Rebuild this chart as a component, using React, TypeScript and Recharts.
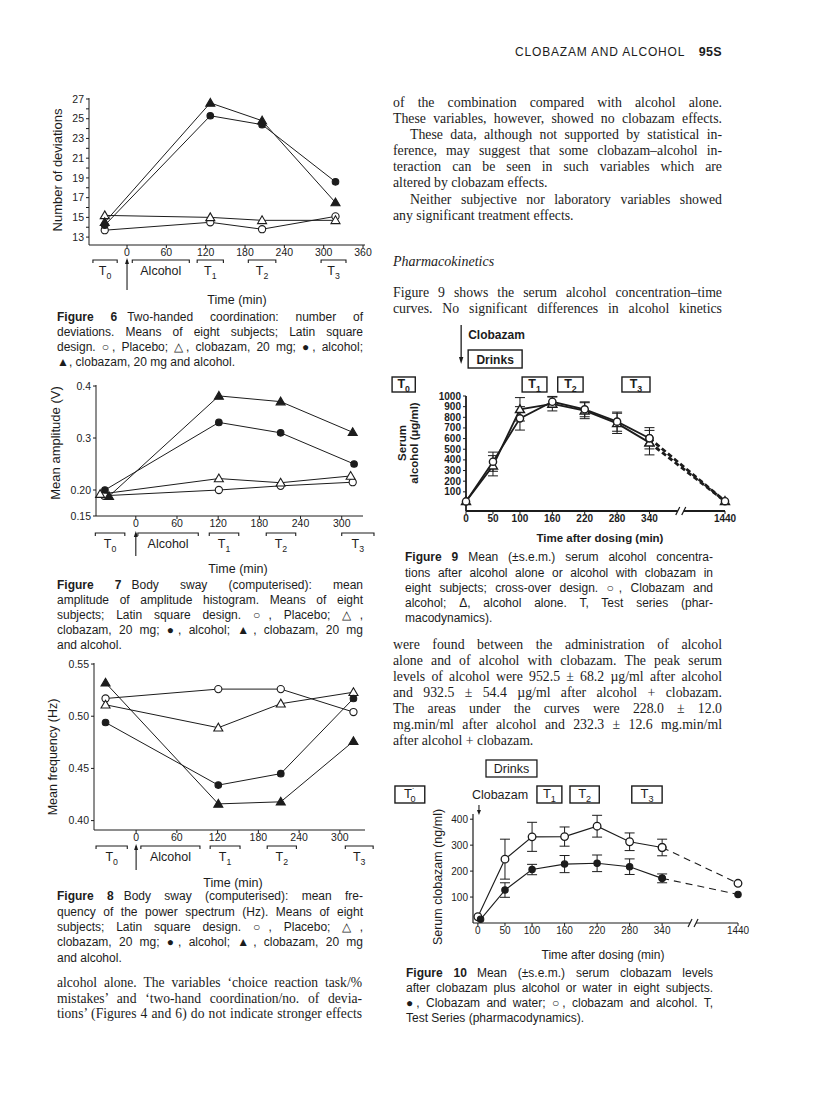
import React from "react";
import { LineChart, Line, XAxis, YAxis, ErrorBar } from "recharts";

const INK = "#1c1c1c";
const SANS = "'Liberation Sans', Arial, Helvetica, sans-serif";
const SERIF = "'Liberation Serif', 'Times New Roman', serif";

// ---- Figure 6: two-handed coordination (number of deviations)
const fig6Times = [-34, 127, 206, 318];
const fig6Placebo = [13.7, 14.5, 13.8, 15.1];
const fig6Clobazam = [15.2, 15.0, 14.7, 14.7];
const fig6Alcohol = [14.2, 25.3, 24.4, 18.6];
const fig6Both = [14.5, 26.6, 24.8, 16.5];
const fig6XTicks = [0, 60, 120, 180, 240, 300, 360];
const fig6YTicks = [13, 14, 15, 16, 17, 18, 19, 20, 21, 22, 23, 24, 25, 26, 27];

// ---- Figure 7: body sway, mean amplitude (V)
const fig7PlaceboT = [-46, 121, 211, 316];
const fig7Placebo = [0.189, 0.2, 0.208, 0.215];
const fig7ClobazamT = [-52, 121, 211, 313];
const fig7Clobazam = [0.192, 0.222, 0.214, 0.227];
const fig7AlcoholT = [-45, 121, 211, 318];
const fig7Alcohol = [0.2, 0.33, 0.31, 0.25];
const fig7BothT = [-39, 121, 211, 316];
const fig7Both = [0.188, 0.381, 0.37, 0.311];
const fig7XTicks = [0, 60, 120, 180, 240, 300];
const fig7YTicks = [0.15, 0.2, 0.3, 0.4];
const fig7YLabels = ["0.15", "0.20", "0.3", "0.4"];

// ---- Figure 8: body sway, mean frequency (Hz)
const fig8Times = [-45, 121, 213, 320];
const fig8Placebo = [0.517, 0.526, 0.526, 0.504];
const fig8Clobazam = [0.511, 0.489, 0.512, 0.523];
const fig8Alcohol = [0.494, 0.434, 0.445, 0.517];
const fig8Both = [0.532, 0.416, 0.418, 0.476];
const fig8XTicks = [0, 60, 120, 180, 240, 300];
const fig8YTicks = [0.4, 0.45, 0.5, 0.55];
const fig8YLabels = ["0.40", "0.45", "0.50", "0.55"];

// ---- Figure 9: serum alcohol (ug/ml)
const pkTimes = [0, 50, 100, 160, 220, 280, 340, 1440];
const pkTickLabels = ["0", "50", "100", "160", "220", "280", "340", "1440"];
const fig9WithClob = [10, 383, 790, 946, 875, 759, 603, 12];
const fig9WithClobErr = [0, 90, 110, 50, 70, 90, 100, 0];
const fig9AlcAlone = [10, 345, 875, 925, 862, 743, 562, 12];
const fig9AlcAloneErr = [0, 95, 110, 65, 75, 95, 115, 0];
const fig9YTicks = [100, 200, 300, 400, 500, 600, 700, 800, 900, 1000];

// ---- Figure 10: serum clobazam (ng/ml)
const fig10AlcT = [0, 50, 100, 160, 220, 280, 340, 1440];
const fig10Alc = [24, 246, 332, 333, 373, 313, 291, 153];
const fig10AlcErr = [0, 77, 56, 37, 42, 34, 32, 0];
const fig10WaterT = [5, 50, 100, 160, 220, 280, 340, 1440];
const fig10Water = [14, 127, 206, 227, 230, 217, 172, 110];
const fig10WaterErr = [0, 28, 20, 33, 32, 30, 17, 0];
const fig10YTicks = [100, 200, 300, 400];

// test series windows (minutes)
const fig6Windows = [
  { from: -52, to: -15, sub: "0" },
  { from: 8, to: 95, label: "Alcohol" },
  { from: 107, to: 147, sub: "1" },
  { from: 185, to: 227, sub: "2" },
  { from: 296, to: 334, sub: "3" },
];
const fig7Windows = [
  { from: -59, to: -16, sub: "0" },
  { from: 3, to: 91, label: "Alcohol" },
  { from: 107, to: 150, sub: "1" },
  { from: 190, to: 233, sub: "2" },
  { from: 300, to: 347, sub: "3" },
];
const fig8Windows = [
  { from: -59, to: -13, sub: "0" },
  { from: 7, to: 94, label: "Alcohol" },
  { from: 109, to: 153, sub: "1" },
  { from: 193, to: 236, sub: "2" },
  { from: 308, to: 349, sub: "3" },
];
const fig9Boxes = [
  { from: -137, to: -94, sub: "0" },
  { from: 104, to: 150, sub: "1" },
  { from: 170, to: 217, sub: "2" },
  { from: 289, to: 341, sub: "3" },
];
const fig10Boxes = [
  { from: -153, to: -98, sub: "0", prime: true },
  { from: 109, to: 155, sub: "1" },
  { from: 170, to: 224, sub: "2" },
  { from: 284, to: 340, sub: "3" },
];

// ---- text
const rightTop = [
  { t: "of the combination compared with alcohol alone." },
  { t: "These variables, however, showed no clobazam effects." },
  { t: "These data, although not supported by statistical in-", ind: 17 },
  { t: "ference, may suggest that some clobazam\u2013alcohol in-" },
  { t: "teraction can be seen in such variables which are" },
  { t: "altered by clobazam effects.", end: true },
  { t: "Neither subjective nor laboratory variables showed", ind: 17 },
  { t: "any significant treatment effects.", end: true },
];
const rightIntro = [
  { t: "Figure 9 shows the serum alcohol concentration\u2013time" },
  { t: "curves. No significant differences in alcohol kinetics" },
];
const rightMid = [
  { t: "were found between the administration of alcohol" },
  { t: "alone and of alcohol with clobazam. The peak serum" },
  { t: "levels of alcohol were 952.5 \u00b1 68.2 \u00b5g/ml after alcohol" },
  { t: "and 932.5 \u00b1 54.4 \u00b5g/ml after alcohol + clobazam." },
  { t: "The areas under the curves were 228.0 \u00b1 12.0" },
  { t: "mg.min/ml after alcohol and 232.3 \u00b1 12.6 mg.min/ml" },
  { t: "after alcohol + clobazam.", end: true },
];
const leftBottom = [
  { t: "alcohol alone. The variables \u2018choice reaction task/%" },
  { t: "mistakes\u2019 and \u2018two-hand coordination/no. of devia-" },
  { t: "tions\u2019 (Figures 4 and 6) do not indicate stronger effects" },
];
const cap6 = [
  { b: "Figure 6", t: "Two-handed coordination: number of" },
  { t: "deviations. Means of eight subjects; Latin square" },
  { t: "design. \u25cb, Placebo; \u25b3, clobazam, 20 mg; \u25cf, alcohol;" },
  { t: "\u25b2, clobazam, 20 mg and alcohol.", end: true },
];
const cap7 = [
  { b: "Figure 7", t: "Body sway (computerised): mean" },
  { t: "amplitude of amplitude histogram. Means of eight" },
  { t: "subjects; Latin square design. \u25cb, Placebo; \u25b3," },
  { t: "clobazam, 20 mg; \u25cf, alcohol; \u25b2, clobazam, 20 mg" },
  { t: "and alcohol.", end: true },
];
const cap8 = [
  { b: "Figure 8", t: "Body sway (computerised): mean fre-" },
  { t: "quency of the power spectrum (Hz). Means of eight" },
  { t: "subjects; Latin square design. \u25cb, Placebo; \u25b3," },
  { t: "clobazam, 20 mg; \u25cf, alcohol; \u25b2, clobazam, 20 mg" },
  { t: "and alcohol.", end: true },
];
const cap9 = [
  { b: "Figure 9", t: "Mean (\u00b1s.e.m.) serum alcohol concentra-" },
  { t: "tions after alcohol alone or alcohol with clobazam in" },
  { t: "eight subjects; cross-over design. \u25cb, Clobazam and" },
  { t: "alcohol; \u0394, alcohol alone. T, Test series (phar-" },
  { t: "macodynamics).", end: true },
];
const cap10 = [
  { b: "Figure 10", t: "Mean (\u00b1s.e.m.) serum clobazam levels" },
  { t: "after clobazam plus alcohol or water in eight subjects." },
  { t: "\u25cf, Clobazam and water; \u25cb, clobazam and alcohol. T," },
  { t: "Test Series (pharmacodynamics).", end: true },
];

// ---- helpers
type Pt = { x: number; y: number; e: number };
type Shape = "oc" | "fc" | "ot" | "ft";
type Series = { id: string; pts: Pt[]; shape: Shape; r: number; w: number; dash?: string; err?: boolean; mw?: number };
type Fig = { box: { x0: number; x1: number; y0: number; y1: number }; xDom: [number, number]; yDom: [number, number] };

const lin = (d: [number, number], r: [number, number]) => (v: number) =>
  r[0] + ((v - d[0]) / (d[1] - d[0])) * (r[1] - r[0]);

const pts = (xs: number[], ys: number[], es?: number[]): Pt[] =>
  xs.map((x, i) => ({ x, y: ys[i], e: es ? es[i] : 0 }));

// broken time axis: everything after 340 min sits at one compressed slot
const LATE_POS = 480;
const axisPos = (t: number) => (t > 340 ? LATE_POS : t);
const pkTicks = pkTimes.map(axisPos);
const pkFmt = (v: number) => pkTickLabels[pkTicks.indexOf(v)] ?? "";

const fig6: Fig = { box: { x0: 89, x1: 365, y0: 98, y1: 245 }, xDom: [-58, 363], yDom: [12.2, 27.1] };
const fig7: Fig = { box: { x0: 96, x1: 363, y0: 385, y1: 516 }, xDom: [-58, 331], yDom: [0.15, 0.402] };
const fig8: Fig = { box: { x0: 94, x1: 365, y0: 663, y1: 830 }, xDom: [-62, 337], yDom: [0.391, 0.551] };
const fig9: Fig = { box: { x0: 466, x1: 725, y0: 396, y1: 511 }, xDom: [0, LATE_POS], yDom: [-80, 1000] };
const fig10: Fig = { box: { x0: 473, x1: 738, y0: 814, y1: 923 }, xDom: [-9, LATE_POS], yDom: [0, 420] };

const sxOf = (f: Fig) => lin(f.xDom, [f.box.x0, f.box.x1]);

function marker(shape: Shape, r: number, sw: number) {
  return (p: any) => {
    const { cx, cy, index } = p;
    const k = `m-${shape}-${index}`;
    if (typeof cx !== "number" || typeof cy !== "number") return <g key={k} />;
    const fill = shape === "fc" || shape === "ft" ? INK : "#fff";
    if (shape === "oc" || shape === "fc")
      return <circle key={k} cx={cx} cy={cy} r={r} fill={fill} stroke={INK} strokeWidth={sw} />;
    const h = r * 1.25;
    const p3 = `${cx},${cy - h} ${cx - h},${cy + h * 0.72} ${cx + h},${cy + h * 0.72}`;
    return <polygon key={k} points={p3} fill={fill} stroke={INK} strokeWidth={sw} />;
  };
}

function pkSeries(id: string, xs: number[], ys: number[], es: number[], shape: Shape, r: number, w: number, dw: number, dash: string, mw: number): Series[] {
  const all = pts(xs.map(axisPos), ys, es);
  return [
    { id: id + "-s", pts: all.filter((q) => q.x <= 340), shape, r, w, err: true, mw },
    { id: id + "-d", pts: all.filter((q) => q.x >= 340).map((q) => ({ ...q, e: 0 })), shape, r, w: dw, dash, mw },
  ];
}

function Plot(props: {
  fig: Fig; xTicks: number[]; xFmt?: (v: number) => string; yTicks: number[]; yFmt?: (v: number) => string;
  series: Series[]; tick: any; axisW?: number;
}) {
  const { fig, series, tick } = props;
  const { box } = fig;
  const YW = 40, PAD = 10, RPAD = 22, XH = 26;
  const axisW = props.axisW ?? 1;
  return (
    <div style={{ position: "absolute", left: box.x0 - YW, top: box.y0 - PAD }}>
      <LineChart width={YW + box.x1 - box.x0 + RPAD} height={PAD + box.y1 - box.y0 + XH} margin={{ top: PAD, right: RPAD, bottom: 0, left: 0 }}>
        <XAxis type="number" dataKey="x" domain={fig.xDom} ticks={props.xTicks} tickFormatter={props.xFmt} interval={0}
          height={XH} tickSize={3} tickMargin={1} tick={tick} axisLine={{ stroke: INK, strokeWidth: axisW }} tickLine={{ stroke: INK }} />
        <YAxis type="number" domain={fig.yDom} ticks={props.yTicks} tickFormatter={props.yFmt} interval={0}
          width={YW} tickSize={3} tickMargin={2} tick={tick} axisLine={{ stroke: INK, strokeWidth: axisW }} tickLine={{ stroke: INK }} />
        {series.map((s) => (
          <Line key={s.id} data={s.pts} dataKey="y" type="linear" stroke={INK} strokeWidth={s.w} strokeDasharray={s.dash}
            dot={marker(s.shape, s.r, s.mw ?? 1.1)} activeDot={false} isAnimationActive={false} legendType="none">
            {s.err ? <ErrorBar dataKey="e" direction="y" width={5} stroke={INK} strokeWidth={1} /> : null}
          </Line>
        ))}
      </LineChart>
    </div>
  );
}

function TLabel({ x, y, sub, size = 12, bold, prime }: { x: number; y: number; sub: string; size?: number; bold?: boolean; prime?: boolean }) {
  return (
    <text x={x} y={y} textAnchor="middle" fontSize={size} fontFamily={SANS} fill={INK} fontWeight={bold ? 700 : 400}>
      T
      {prime ? <tspan fontSize={size * 0.7} dy={-size * 0.3}>{"\u02d9"}</tspan> : null}
      <tspan fontSize={size * 0.7} dx={prime ? -size * 0.35 : 0} dy={prime ? size * 0.6 : size * 0.3}>{sub}</tspan>
    </text>
  );
}

function Schedule({ fig, windows, lineY, arrowBottom }: { fig: Fig; windows: any[]; lineY: number; arrowBottom: number }) {
  const sx = sxOf(fig);
  const ax = sx(0);
  return (
    <g>
      {windows.map((w, i) => {
        const a = sx(w.from), b = sx(w.to);
        return (
          <g key={i}>
            <path d={`M${a},${lineY + 3}V${lineY}H${b}V${lineY + 3}`} fill="none" stroke={INK} strokeWidth={1.1} />
            {w.sub ? (
              <TLabel x={(a + b) / 2} y={lineY + 15} sub={w.sub} size={12.5} />
            ) : (
              <text x={(a + b) / 2} y={lineY + 15} textAnchor="middle" fontSize={12.5} fontFamily={SANS} fill={INK}>{w.label}</text>
            )}
          </g>
        );
      })}
      <line x1={ax} x2={ax} y1={arrowBottom} y2={lineY} stroke={INK} strokeWidth={1.1} />
      <polygon points={`${ax},${lineY - 2} ${ax - 2},${lineY + 4} ${ax + 2},${lineY + 4}`} fill={INK} />
    </g>
  );
}

function Boxes({ fig, boxes, top, h, size, bold }: { fig: Fig; boxes: any[]; top: number; h: number; size: number; bold?: boolean }) {
  const sx = sxOf(fig);
  return (
    <g>
      {boxes.map((b, i) => {
        const x0 = sx(b.from), x1 = sx(b.to);
        return (
          <g key={i}>
            <rect x={x0} y={top} width={x1 - x0} height={h} fill="#fff" stroke={INK} strokeWidth={1.4} />
            <TLabel x={(x0 + x1) / 2} y={top + h / 2 + size * 0.3} sub={b.sub} size={size} bold={bold} prime={b.prime} />
          </g>
        );
      })}
    </g>
  );
}

function AxisBreak({ x, y }: { x: number; y: number }) {
  return (
    <g>
      <rect x={x - 3} y={y - 3} width={6} height={6} fill="#fff" />
      <line x1={x - 5} y1={y + 4} x2={x - 1} y2={y - 4} stroke={INK} strokeWidth={1.2} />
      <line x1={x + 1} y1={y + 4} x2={x + 5} y2={y - 4} stroke={INK} strokeWidth={1.2} />
    </g>
  );
}

function Para({ x, w, y, step, size, font, lines }: { x: number; w: number; y: number; step: number; size: number; font: string; lines: any[] }) {
  return (
    <>
      {lines.map((l, i) => {
        const ind = l.ind ?? 0;
        const align = l.end ? "left" : "justify";
        return (
          <div key={i} style={{
            position: "absolute", left: x + ind, top: y + i * step - step / 2, width: w - ind, height: step,
            lineHeight: `${step}px`, fontSize: size, fontFamily: font, color: INK,
            textAlign: align as any, textAlignLast: align as any,
          }}>
            {l.b ? <b style={{ marginRight: 10 }}>{l.b}</b> : null}
            {l.t}
          </div>
        );
      })}
    </>
  );
}

function RotTitle({ x, y, text, size, bold }: { x: number; y: number; text: string; size: number; bold?: boolean }) {
  return (
    <text transform={`translate(${x},${y}) rotate(-90)`} textAnchor="middle" dominantBaseline="central"
      fontSize={size} fontFamily={SANS} fill={INK} fontWeight={bold ? 700 : 400}>{text}</text>
  );
}

export default function App() {
  const smallTick = { fontSize: 10.5, fontFamily: SANS, fill: INK };
  const pkTick = { fontSize: 10, fontFamily: SANS, fill: INK };
  const boldTick = { fontSize: 10, fontFamily: SANS, fill: INK, fontWeight: 700 };

  const s6: Series[] = [
    { id: "p", pts: pts(fig6Times, fig6Placebo), shape: "oc", r: 3.6, w: 1 },
    { id: "c", pts: pts(fig6Times, fig6Clobazam), shape: "ot", r: 3.6, w: 1 },
    { id: "a", pts: pts(fig6Times, fig6Alcohol), shape: "fc", r: 3.3, w: 1 },
    { id: "b", pts: pts(fig6Times, fig6Both), shape: "ft", r: 3.6, w: 1 },
  ];
  const s7: Series[] = [
    { id: "p", pts: pts(fig7PlaceboT, fig7Placebo), shape: "oc", r: 3.6, w: 1 },
    { id: "c", pts: pts(fig7ClobazamT, fig7Clobazam), shape: "ot", r: 3.6, w: 1 },
    { id: "a", pts: pts(fig7AlcoholT, fig7Alcohol), shape: "fc", r: 3.3, w: 1 },
    { id: "b", pts: pts(fig7BothT, fig7Both), shape: "ft", r: 3.6, w: 1 },
  ];
  const s8: Series[] = [
    { id: "p", pts: pts(fig8Times, fig8Placebo), shape: "oc", r: 3.6, w: 1 },
    { id: "c", pts: pts(fig8Times, fig8Clobazam), shape: "ot", r: 3.6, w: 1 },
    { id: "a", pts: pts(fig8Times, fig8Alcohol), shape: "fc", r: 3.3, w: 1 },
    { id: "b", pts: pts(fig8Times, fig8Both), shape: "ft", r: 3.6, w: 1 },
  ];
  const s9: Series[] = [
    ...pkSeries("alc", pkTimes, fig9AlcAlone, fig9AlcAloneErr, "ot", 3.6, 1.8, 2.8, "5 3", 1.4),
    ...pkSeries("clob", pkTimes, fig9WithClob, fig9WithClobErr, "oc", 3.6, 1.8, 2.8, "5 3", 1.4),
  ];
  const s10: Series[] = [
    ...pkSeries("alc", fig10AlcT, fig10Alc, fig10AlcErr, "oc", 3.8, 1.1, 1.1, "7 5", 1.3),
    ...pkSeries("water", fig10WaterT, fig10Water, fig10WaterErr, "fc", 3.2, 1.1, 1.1, "7 5", 1.1),
  ];

  const sx9 = sxOf(fig9);
  const sx10 = sxOf(fig10);

  return (
    <div style={{ position: "absolute", left: 0, top: 0, width: 816, height: 1117, background: "#fff", overflow: "hidden" }}>
      {/* running head */}
      <div style={{ position: "absolute", right: 94, top: 45, fontFamily: SANS, fontSize: 12, color: INK, letterSpacing: 0.8, whiteSpace: "nowrap" }}>
        CLOBAZAM AND ALCOHOL <b style={{ marginLeft: 10, fontSize: 12.5, letterSpacing: 0.3 }}>95S</b>
      </div>

      <Plot fig={fig6} xTicks={fig6XTicks} yTicks={fig6YTicks} yFmt={(v) => (v % 2 === 1 ? String(v) : "")} series={s6} tick={smallTick} />
      <Plot fig={fig7} xTicks={fig7XTicks} yTicks={fig7YTicks} yFmt={(v) => fig7YLabels[fig7YTicks.indexOf(v)] ?? ""} series={s7} tick={smallTick} />
      <Plot fig={fig8} xTicks={fig8XTicks} yTicks={fig8YTicks} yFmt={(v) => fig8YLabels[fig8YTicks.indexOf(v)] ?? ""} series={s8} tick={smallTick} />
      <Plot fig={fig9} xTicks={pkTicks} xFmt={pkFmt} yTicks={fig9YTicks} series={s9} tick={boldTick} axisW={1.8} />
      <Plot fig={fig10} xTicks={pkTicks} xFmt={pkFmt} yTicks={fig10YTicks} series={s10} tick={pkTick} axisW={1.2} />

      <svg width={816} height={1117} style={{ position: "absolute", left: 0, top: 0, pointerEvents: "none" }}>
        {/* figure 6 */}
        <RotTitle x={57} y={170} text="Number of deviations" size={13} />
        <Schedule fig={fig6} windows={fig6Windows} lineY={260} arrowBottom={290} />
        <text x={237} y={303.5} textAnchor="middle" fontSize={12.5} fontFamily={SANS} fill={INK}>Time (min)</text>

        {/* figure 7 */}
        <RotTitle x={55} y={443} text="Mean amplitude (V)" size={13} />
        <Schedule fig={fig7} windows={fig7Windows} lineY={533} arrowBottom={556} />
        <text x={238} y={572.5} textAnchor="middle" fontSize={12.5} fontFamily={SANS} fill={INK}>Time (min)</text>

        {/* figure 8 */}
        <RotTitle x={53} y={757} text="Mean frequency (Hz)" size={12.5} />
        <Schedule fig={fig8} windows={fig8Windows} lineY={846} arrowBottom={870} />
        <text x={233} y={886.5} textAnchor="middle" fontSize={12.5} fontFamily={SANS} fill={INK}>Time (min)</text>

        {/* figure 9 */}
        <line x1={sx9(-9)} x2={sx9(-9)} y1={325} y2={360} stroke={INK} strokeWidth={1.3} />
        <polygon points={`${sx9(-9)},${364} ${sx9(-9) - 2.2},${357} ${sx9(-9) + 2.2},${357}`} fill={INK} />
        <text x={sx9(4)} y={338.5} fontSize={12} fontFamily={SANS} fill={INK} fontWeight={700}>Clobazam</text>
        <rect x={sx9(4)} y={350} width={sx9(104) - sx9(4)} height={18} fill="#fff" stroke={INK} strokeWidth={1.4} />
        <text x={(sx9(4) + sx9(104)) / 2} y={363.5} textAnchor="middle" fontSize={12} fontFamily={SANS} fill={INK} fontWeight={700}>Drinks</text>
        <Boxes fig={fig9} boxes={fig9Boxes} top={377} h={15} size={12.5} bold />
        <RotTitle x={402} y={443} text="Serum" size={11.5} bold />
        <RotTitle x={414} y={443} text={"alcohol (\u00b5g/ml)"} size={11.5} bold />
        <AxisBreak x={sx9(398)} y={511} />
        <text x={600} y={542} textAnchor="middle" fontSize={11.5} fontFamily={SANS} fill={INK} fontWeight={700}>Time after dosing (min)</text>

        {/* figure 10 */}
        <rect x={sx10(15)} y={760} width={sx10(109) - sx10(15)} height={17} fill="#fff" stroke={INK} strokeWidth={1.3} />
        <text x={(sx10(15) + sx10(109)) / 2} y={773} textAnchor="middle" fontSize={12.5} fontFamily={SANS} fill={INK}>Drinks</text>
        <Boxes fig={fig10} boxes={fig10Boxes} top={786} h={17} size={13} />
        <text x={sx10(0) - 6} y={798.5} fontSize={12.5} fontFamily={SANS} fill={INK}>Clobazam</text>
        <line x1={sx10(2)} x2={sx10(2)} y1={805} y2={812} stroke={INK} strokeWidth={1.1} />
        <polygon points={`${sx10(2)},${815} ${sx10(2) - 2},${810} ${sx10(2) + 2},${810}`} fill={INK} />
        <RotTitle x={438} y={877} text="Serum clobazam (ng/ml)" size={12.5} />
        <AxisBreak x={sx10(397)} y={923} />
        <text x={603} y={959} textAnchor="middle" fontSize={12} fontFamily={SANS} fill={INK}>Time after dosing (min)</text>
      </svg>

      {/* captions */}
      <Para x={57} w={306} y={317} step={15} size={12} font={SANS} lines={cap6} />
      <Para x={57} w={306} y={585} step={15} size={12} font={SANS} lines={cap7} />
      <Para x={57} w={306} y={897} step={15.3} size={12} font={SANS} lines={cap8} />
      <Para x={405} w={308} y={558} step={15.2} size={12} font={SANS} lines={cap9} />
      <Para x={406} w={307} y={973} step={15} size={12} font={SANS} lines={cap10} />

      {/* body text */}
      <Para x={393} w={329} y={103} step={16.1} size={13.8} font={SERIF} lines={rightTop} />
      <div style={{ position: "absolute", left: 393, top: 253, fontFamily: SERIF, fontStyle: "italic", fontSize: 14, color: INK, lineHeight: "18px" }}>
        Pharmacokinetics
      </div>
      <Para x={393} w={329} y={293} step={16} size={13.8} font={SERIF} lines={rightIntro} />
      <Para x={393} w={329} y={645} step={16} size={13.8} font={SERIF} lines={rightMid} />
      <Para x={57} w={305} y={983} step={15.5} size={13.6} font={SERIF} lines={leftBottom} />
    </div>
  );
}
